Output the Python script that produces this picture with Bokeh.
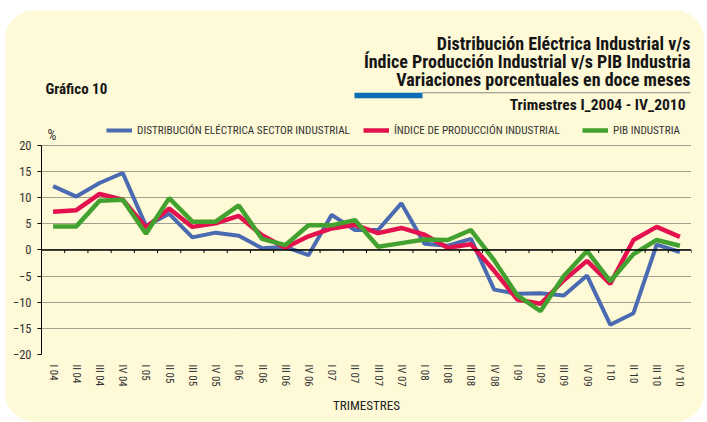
from bokeh.plotting import figure
from bokeh.models import (Label, Span, Legend, LegendItem, FixedTicker, BoxAnnotation,
                          FactorRange, Range1d)
from bokeh.embed import file_html
from bokeh.resources import INLINE

quarters = ["I 04", "II 04", "III 04", "IV 04", "I 05", "II 05", "III 05", "IV 05",
            "I 06", "II 06", "III 06", "IV 06", "I 07", "II 07", "III 07", "IV 07",
            "I 08", "II 08", "III 08", "IV 08", "I 09", "II 09", "III 09", "IV 09",
            "I 10", "II 10", "III 10", "IV 10"]
distribucion = [12.2, 10.2, 12.8, 14.7, 4.6, 6.9, 2.4, 3.3, 2.7, 0.3, 0.6, -1.0,
                6.7, 3.8, 3.8, 8.9, 1.2, 0.8, 2.1, -7.6, -8.4, -8.3, -8.7, -4.9,
                -14.3, -12.1, 1.0, -0.4]
indice = [7.3, 7.6, 10.7, 9.6, 4.3, 7.9, 4.4, 5.1, 6.5, 2.8, 0.4, 2.6,
          4.1, 4.8, 3.2, 4.2, 2.9, 0.4, 1.1, -4.0, -9.5, -10.3, -5.8, -2.1,
          -6.5, 1.9, 4.4, 2.5]
pib = [4.5, 4.5, 9.4, 9.6, 3.1, 9.9, 5.4, 5.4, 8.5, 2.1, 0.9, 4.7,
       4.7, 5.7, 0.6, 1.3, 2.0, 1.9, 3.8, -2.0, -8.7, -11.7, -5.0, -0.2,
       -6.0, -0.8, 1.9, 0.8]
y_ticks = [-20, -15, -10, -5, 0, 5, 10, 15, 20]
series_names = ["DISTRIBUCIÓN ELÉCTRICA SECTOR INDUSTRIAL",
                "ÍNDICE DE PRODUCCIÓN INDUSTRIAL", "PIB INDUSTRIA"]
title_lines = ["Distribución Eléctrica Industrial v/s",
               "Índice Producción Industrial v/s PIB Industria",
               "Variaciones porcentuales en doce meses"]

BG = "#FEF9D7"
BLUE = "#4A6BB2"
RED = "#E3124F"
GREEN = "#42A12F"
FONT = "Roboto Condensed"

# page placement of the yellow panel and of the plotting frame
OX, OY = 5, 10            # panel offset in the page
W, H = 699, 412           # panel size
FL, FR = 41, 690.6        # frame left / right (page x)
FT, FB = 10, 353.7        # frame top / bottom (page y)
Y20 = 144.7               # page y of the +20 line
ppu = (FB - Y20) / 40.0
y_top = 20 + (Y20 - FT) / ppu

p = figure(width=W, height=H, x_range=FactorRange(*quarters),
           y_range=Range1d(-20, y_top),
           output_backend="svg", toolbar_location=None,
           min_border_left=round(FL - OX), min_border_right=round(OX + W - FR),
           min_border_top=0, min_border_bottom=round(OY + H - FB),
           styles={"margin-left": f"{OX}px", "margin-top": f"{OY}px",
                   "border-radius": "30px", "overflow": "hidden"})
p.border_fill_color = BG
p.background_fill_color = BG
p.outline_line_color = None

p.xgrid.grid_line_color = None
p.ygrid.grid_line_color = "#444444"
p.ygrid.grid_line_dash = "1 1"
p.ygrid.grid_line_width = 1

p.yaxis.ticker = FixedTicker(ticks=y_ticks)
p.yaxis.bounds = (-20, 20)
p.yaxis.axis_line_color = "black"
p.yaxis.major_tick_out = 4
p.yaxis.major_tick_in = 0
p.yaxis.minor_tick_line_color = None
p.yaxis.major_label_standoff = 6
p.yaxis.major_label_text_font = FONT
p.yaxis.major_label_text_font_size = "12.5px"
p.yaxis.major_label_text_color = "#333333"

p.xaxis.axis_line_color = None
p.xaxis.major_tick_line_color = None
p.xaxis.major_label_orientation = "vertical"
p.xaxis.major_label_standoff = 4
p.xaxis.major_label_text_font = FONT
p.xaxis.major_label_text_font_size = "11px"
p.xaxis.major_label_text_color = "#333333"
p.xaxis.axis_label = "TRIMESTRES"
p.xaxis.axis_label_text_font = FONT
p.xaxis.axis_label_text_font_style = "normal"
p.xaxis.axis_label_text_font_size = "13px"
p.xaxis.axis_label_text_color = "#222222"
p.xaxis.axis_label_standoff = 8

p.add_layout(Span(location=0, dimension="width", line_color="black", line_width=1.5))
bounds = list(range(1, len(quarters) + 1))
p.segment(x0=bounds, y0=[0] * len(bounds), x1=bounds, y1=[-0.6] * len(bounds),
          line_color="black", line_width=1)

r1 = p.line(quarters, distribucion, line_color=BLUE, line_width=4)
r2 = p.line(quarters, indice, line_color=RED, line_width=4.5)
r3 = p.line(quarters, pib, line_color=GREEN, line_width=4.5)


def sx(px):
    return px - FL


def sy(py):
    return FB - py


def text(txt, px, py, size, bold=True, align="right", color="#151515"):
    p.add_layout(Label(x=sx(px), y=sy(py), x_units="screen", y_units="screen",
                       text=txt, text_font=FONT, text_font_size=size,
                       text_font_style="bold" if bold else "normal",
                       text_align=align, text_baseline="middle",
                       text_color=color))


text(title_lines[0], 690, 43, "18px")
text(title_lines[1], 690, 61, "18px")
text(title_lines[2], 690, 79, "18px")
text("Trimestres I_2004 - IV_2010", 685, 104, "15.5px")
text("Gráfico 10", 45, 88.5, "15px", align="left")
text("%", 47, 134, "14px", bold=False, align="left", color="#333333")

p.add_layout(BoxAnnotation(left=sx(354), right=sx(422), top=sy(92), bottom=sy(97.5),
                           left_units="screen", right_units="screen",
                           top_units="screen", bottom_units="screen",
                           fill_color="#0B6EB4", fill_alpha=1, line_color=None))
p.add_layout(BoxAnnotation(left=sx(422), right=sx(690), top=sy(91.4), bottom=sy(92.4),
                           left_units="screen", right_units="screen",
                           top_units="screen", bottom_units="screen",
                           fill_color="#8a8a8a", fill_alpha=1, line_color=None))

for r, name, gx in [(r1, series_names[0], 106), (r2, series_names[1], 363),
                    (r3, series_names[2], 582)]:
    lg = Legend(items=[LegendItem(label=name, renderers=[r])],
                location=(sx(gx), sy(137)), orientation="horizontal",
                padding=0, margin=0, spacing=0, glyph_width=26, glyph_height=14,
                label_standoff=5, border_line_color=None,
                background_fill_alpha=0, label_text_font=FONT,
                label_text_font_size="11.2px", label_text_color="#333333",
                label_height=14)
    p.add_layout(lg)

open("out.html", "w").write(file_html(p, INLINE))
